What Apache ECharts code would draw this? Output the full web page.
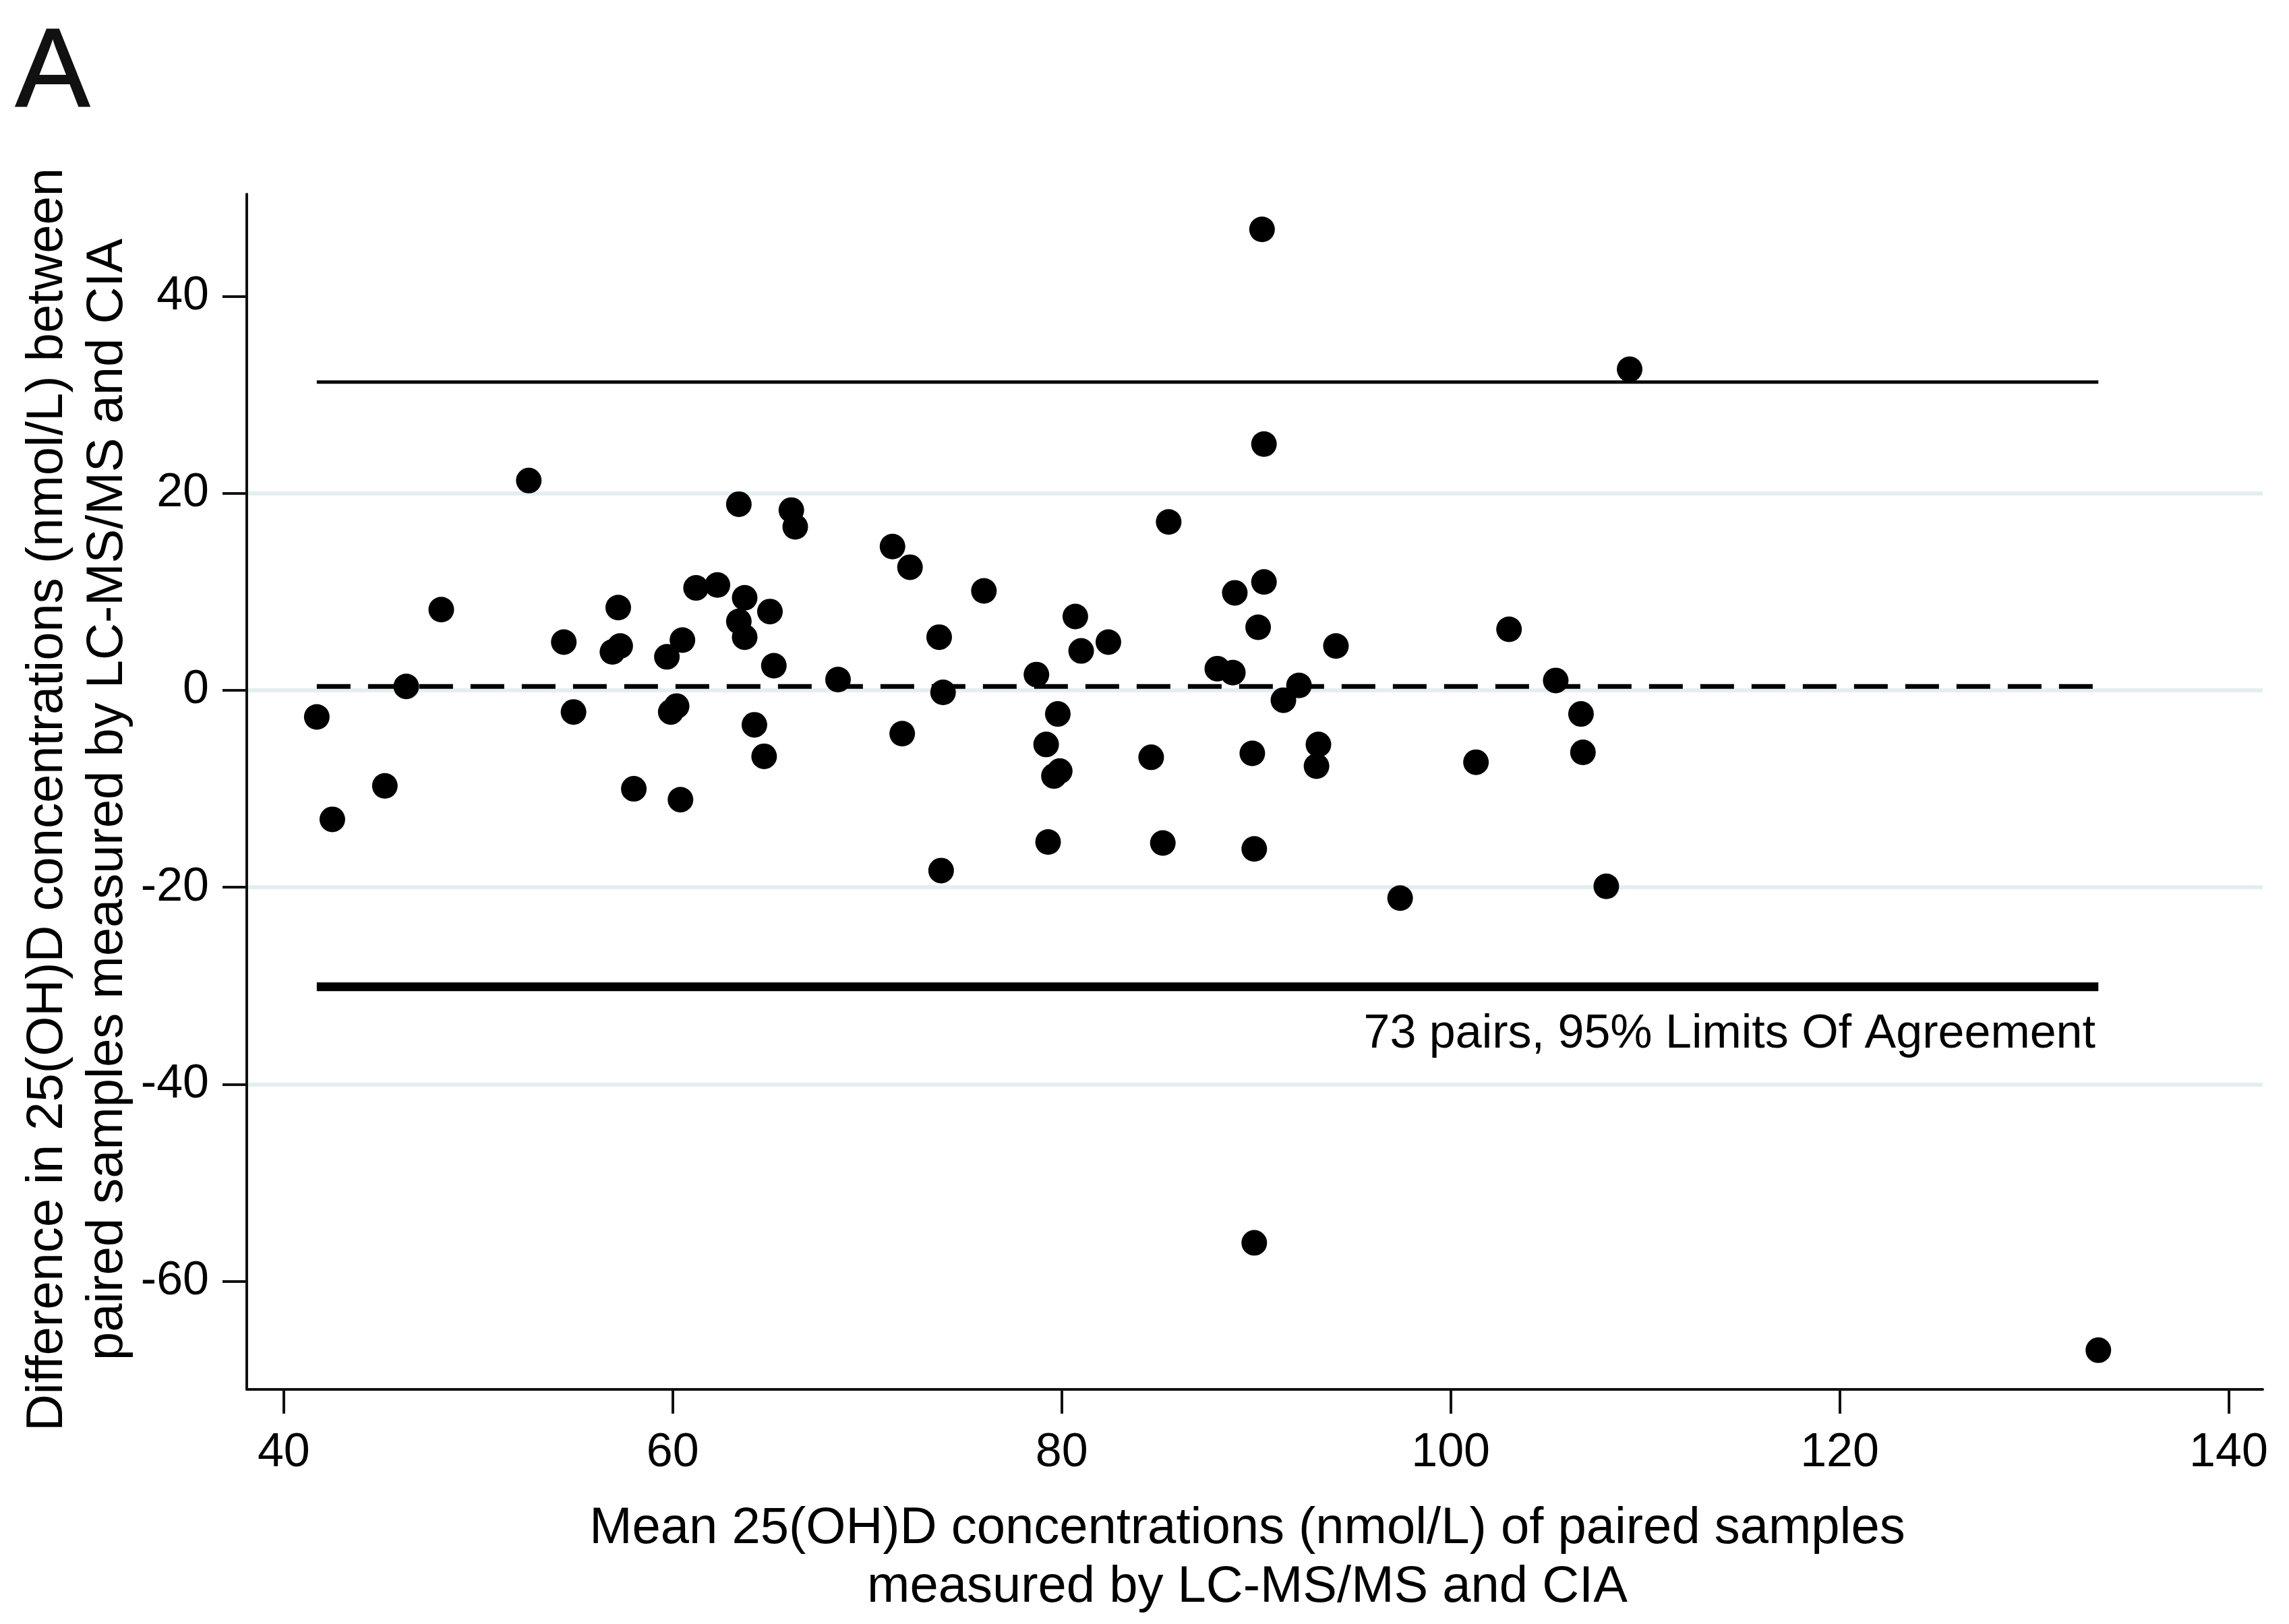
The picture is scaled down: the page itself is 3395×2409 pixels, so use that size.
<!DOCTYPE html>
<html>
<head>
<meta charset="utf-8">
<script src="https://cdn.jsdelivr.net/npm/echarts@6/dist/echarts.min.js"></script>
<style>
html,body{margin:0;padding:0;background:#fff;}
#chart{width:3395px;height:2409px;}
</style>
</head>
<body>
<div id="chart"></div>
<script>
// Mean of paired samples (x) and difference (y), 73 pairs
const meanVals = [
  52.6, 63.4, 66.1, 66.3, 48.1, 61.2, 62.3, 63.7, 65.0, 57.2,
  54.4, 56.9, 57.3, 59.7, 60.5, 63.4, 63.7, 65.2, 46.3, 41.7,
  54.9, 59.9, 60.2, 64.2, 64.7, 45.2, 42.5, 58.0, 60.4,
  90.4, 71.3, 72.2, 76.0, 85.5, 73.7, 80.7, 81.0, 82.4, 68.5,
  73.9, 78.7, 88.9, 90.4, 90.1, 94.1, 88.0, 88.8, 92.2, 91.4,
  71.8, 79.8, 79.2, 79.6, 79.9, 84.6, 89.8, 93.2, 93.1, 79.3,
  85.2, 89.9, 73.8,
  109.2, 103.0, 105.4, 106.7, 106.8, 101.3, 108.0, 97.4,
  90.3, 89.9, 133.3
];
const diffVals = [
  21.3, 18.9, 18.3, 16.6, 8.2, 10.4, 10.7, 9.4, 8.0, 8.4,
  4.9, 3.9, 4.5, 3.4, 5.1, 7.0, 5.4, 2.5, 0.4, -2.7,
  -2.2, -2.2, -1.6, -3.5, -6.7, -9.7, -13.1, -10.0, -11.1,
  25.0, 14.6, 12.5, 10.1, 17.1, 5.4, 7.5, 4.0, 4.9, 1.1,
  -0.2, 1.6, 9.9, 11.0, 6.4, 4.5, 2.2, 1.8, 0.5, -1.0,
  -4.4, -2.4, -5.5, -8.7, -8.2, -6.8, -6.4, -5.5, -7.7, -15.4,
  -15.5, -16.1, -18.3,
  32.6, 6.2, 1.0, -2.4, -6.3, -7.3, -19.9, -21.1,
  46.8, -56.1, -67.0
];
const xTicks = [40, 60, 80, 100, 120, 140];
const yTicks = [-60, -40, -20, 0, 20, 40];
const upperLoA = 31.3;
const meanDiff = 0.4;
const lowerLoA = -30.1;
const xRange = [38.1, 141.75];
const yRange = [-70.98, 50.38];

const FONT = '"Liberation Sans", Arial, Helvetica, sans-serif';
const points = meanVals.map((m, i) => [m, diffVals[i]]);
const xMin = Math.min(...meanVals);
const xMax = Math.max(...meanVals);

const chart = echarts.init(document.getElementById('chart'));
const option = {
  animation: false,
  backgroundColor: '#ffffff',
  grid: { left: 366, right: 39, top: 288, bottom: 348, containLabel: false },
  xAxis: {
    type: 'value', min: xRange[0], max: xRange[1],
    axisLine: { show: true, onZero: false, lineStyle: { color: '#111', width: 4 } },
    axisTick: { show: true, customValues: xTicks, length: 36, lineStyle: { color: '#111', width: 4 } },
    axisLabel: { customValues: xTicks, margin: 60, fontSize: 70, color: '#000', fontFamily: FONT },
    splitLine: { show: false }
  },
  yAxis: {
    type: 'value', min: yRange[0], max: yRange[1],
    axisLine: { show: true, onZero: false, lineStyle: { color: '#111', width: 4 } },
    axisTick: { show: true, customValues: yTicks, length: 36, lineStyle: { color: '#111', width: 4 } },
    axisLabel: { customValues: yTicks, margin: 56, fontSize: 70, color: '#000', fontFamily: FONT },
    splitLine: { show: true, showMinLine: false, showMaxLine: false, lineStyle: { color: '#e4eef1', width: 6 } }
  },
  series: [
    { type: 'line', silent: true, symbol: 'none', data: [[xMin, upperLoA], [xMax, upperLoA]],
      lineStyle: { color: '#000', width: 5, opacity: 1 }, z: 2 },
    { type: 'line', silent: true, symbol: 'none', data: [[xMin, meanDiff], [xMax, meanDiff]],
      lineStyle: { color: '#000', width: 7, type: [50, 26], opacity: 1 }, z: 2 },
    { type: 'line', silent: true, symbol: 'none', data: [[xMin, lowerLoA], [xMax, lowerLoA]],
      lineStyle: { color: '#000', width: 13, opacity: 1 }, z: 2 },
    { type: 'scatter', data: points, symbol: 'circle', symbolSize: 38,
      itemStyle: { color: '#000', opacity: 1 }, z: 3 }
  ],
  graphic: [
    { type: 'text', left: 22, top: 28, style: { text: 'A', fontSize: 165, fontFamily: FONT, fill: '#111', stroke: '#111', lineWidth: 2 } },
    { type: 'text', x: 3108, y: 1535, style: { text: '73 pairs, 95% Limits Of Agreement', fontSize: 70, fontFamily: FONT, fill: '#000', align: 'right', verticalAlign: 'middle' } },
    { type: 'text', x: 1850, y: 2268, style: { text: 'Mean 25(OH)D concentrations (nmol/L) of paired samples', fontSize: 76, fontFamily: FONT, fill: '#000', align: 'center', verticalAlign: 'middle' } },
    { type: 'text', x: 1850, y: 2355, style: { text: 'measured by LC-MS/MS and CIA', fontSize: 76, fontFamily: FONT, fill: '#000', align: 'center', verticalAlign: 'middle' } },
    { type: 'text', x: 71, y: 1186, rotation: Math.PI / 2, style: { text: 'Difference in 25(OH)D concentrations (nmol/L) between', fontSize: 76, fontFamily: FONT, fill: '#000', align: 'center', verticalAlign: 'middle' } },
    { type: 'text', x: 160, y: 1186, rotation: Math.PI / 2, style: { text: 'paired samples measured by LC-MS/MS and CIA', fontSize: 76, fontFamily: FONT, fill: '#000', align: 'center', verticalAlign: 'middle' } }
  ]
};
chart.setOption(option);
</script>
</body>
</html>
